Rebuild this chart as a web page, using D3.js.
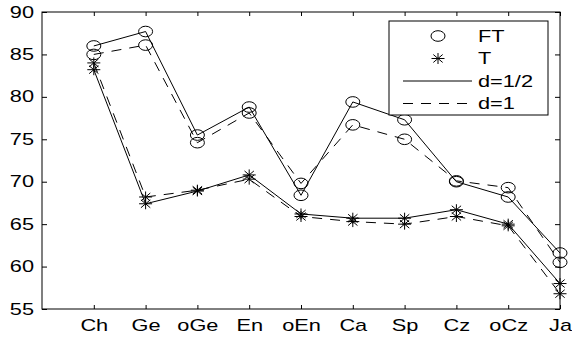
<!DOCTYPE html>
<html>
<head>
<meta charset="utf-8">
<script src="https://cdn.jsdelivr.net/npm/d3@7"></script>
<style>
  body { margin: 0; background: #fff; }
  svg { display: block; }
  text { font-family: "Liberation Sans", Arial, sans-serif; font-size: 16px; fill: #000; }
</style>
</head>
<body>
<svg id="chart" width="572" height="340"></svg>
<script>
const categories = ["Ch", "Ge", "oGe", "En", "oEn", "Ca", "Sp", "Cz", "oCz", "Ja"];
const ftHalf = [86.0, 87.7, 75.5, 78.8, 68.4, 79.4, 77.3, 70.0, 68.2, 61.6];
const ftOne  = [85.0, 86.1, 74.6, 78.1, 69.8, 76.7, 75.0, 70.1, 69.3, 60.5];
const tHalf  = [83.2, 67.4, 68.9, 70.8, 66.2, 65.7, 65.7, 66.7, 65.0, 58.0];
const tOne   = [84.0, 68.2, 69.0, 70.3, 65.9, 65.3, 65.0, 65.9, 64.8, 56.8];
const yTicks = [55, 60, 65, 70, 75, 80, 85, 90];

const series = [
    { values: ftHalf, marker: "circle", dash: null },
    { values: ftOne,  marker: "circle", dash: "10,8" },
    { values: tHalf,  marker: "star",   dash: null },
    { values: tOne,   marker: "star",   dash: "10,8" }
];

const stretch = "scale(1.36,1)";
const svg = d3.select("#chart");
const margin = { top: 12, right: 12, bottom: 31, left: 42 };
const width = 572, height = 340;

const x = d3.scaleLinear()
    .domain([0, categories.length])
    .range([margin.left, width - margin.right]);

const y = d3.scaleLinear()
    .domain([55, 90])
    .range([height - margin.bottom, margin.top]);

const xIdx = d3.range(1, categories.length + 1);

// Axes (ticks point inward, MATLAB style)
svg.append("g")
    .attr("transform", `translate(0, ${height - margin.bottom})`)
    .call(d3.axisBottom(x).tickValues(xIdx).tickFormat(i => categories[i - 1])
        .tickSizeInner(-4).tickSizeOuter(0).tickPadding(11))
    .call(g => g.selectAll("text").attr("transform", stretch));

svg.append("g")
    .attr("transform", `translate(0, ${margin.top})`)
    .call(d3.axisTop(x).tickValues(xIdx).tickFormat("")
        .tickSizeInner(-4).tickSizeOuter(0));

svg.append("g")
    .attr("transform", `translate(${margin.left}, 0)`)
    .call(d3.axisLeft(y).tickValues(yTicks).tickSizeInner(-5).tickSizeOuter(0))
    .call(g => g.selectAll("text").attr("x", 0)
        .attr("transform", "translate(-8,0) " + stretch));

svg.append("g")
    .attr("transform", `translate(${width - margin.right}, 0)`)
    .call(d3.axisRight(y).tickValues(yTicks).tickFormat("")
        .tickSizeInner(-5).tickSizeOuter(0));

svg.selectAll(".domain").remove();
svg.selectAll(".tick line").attr("stroke", "#000");
svg.selectAll(".tick text").style("font-size", "16px").style("font-family", "'Liberation Sans', Arial, sans-serif");

svg.append("rect")
    .attr("x", margin.left).attr("y", margin.top)
    .attr("width", width - margin.left - margin.right)
    .attr("height", height - margin.top - margin.bottom)
    .attr("fill", "none").attr("stroke", "#000").attr("stroke-width", 1);

// Lines
const line = d3.line()
    .x((d, i) => x(i + 1))
    .y(d => y(d));

series.forEach(s => {
    svg.append("path")
        .datum(s.values)
        .attr("fill", "none")
        .attr("stroke", "#000")
        .attr("stroke-width", 1)
        .attr("stroke-dasharray", s.dash)
        .attr("d", line);
});

// Markers
function starPath(rx, ry) {
    const dx = rx * 0.72, dy = ry * 0.72;
    return `M${-rx},0L${rx},0M0,${-ry}L0,${ry}M${-dx},${-dy}L${dx},${dy}M${-dx},${dy}L${dx},${-dy}`;
}

function drawMarker(g, type, cx, cy) {
    if (type === "circle") {
        g.append("ellipse")
            .attr("cx", cx).attr("cy", cy)
            .attr("rx", 7).attr("ry", 5.3)
            .attr("fill", "none").attr("stroke", "#000").attr("stroke-width", 1);
    } else {
        g.append("path")
            .attr("transform", `translate(${cx},${cy})`)
            .attr("d", starPath(6.5, 5.5))
            .attr("fill", "none").attr("stroke", "#000").attr("stroke-width", 1);
    }
}

const markers = svg.append("g");
series.forEach(s => {
    s.values.forEach((v, i) => drawMarker(markers, s.marker, x(i + 1), y(v)));
});

// Legend
const legend = svg.append("g");
legend.append("rect")
    .attr("x", 389).attr("y", 21)
    .attr("width", 159).attr("height", 94)
    .attr("fill", "#fff").attr("stroke", "#000").attr("stroke-width", 1);

const legendItems = [
    { label: "FT", kind: "circle" },
    { label: "T", kind: "star" },
    { label: "d=1/2", kind: "solid" },
    { label: "d=1", kind: "dashed" }
];

legendItems.forEach((d, i) => {
    const ly = 36 + i * 22.5;
    if (d.kind === "circle" || d.kind === "star") {
        drawMarker(legend, d.kind, 438, ly);
    } else {
        legend.append("line")
            .attr("x1", 403).attr("x2", 472)
            .attr("y1", ly).attr("y2", ly)
            .attr("stroke", "#000").attr("stroke-width", 1)
            .attr("stroke-dasharray", d.kind === "dashed" ? "10,8" : null);
    }
    legend.append("text")
        .attr("transform", `translate(478, ${ly}) ${stretch}`)
        .attr("dy", "0.36em")
        .text(d.label);
});
</script>
</body>
</html>
